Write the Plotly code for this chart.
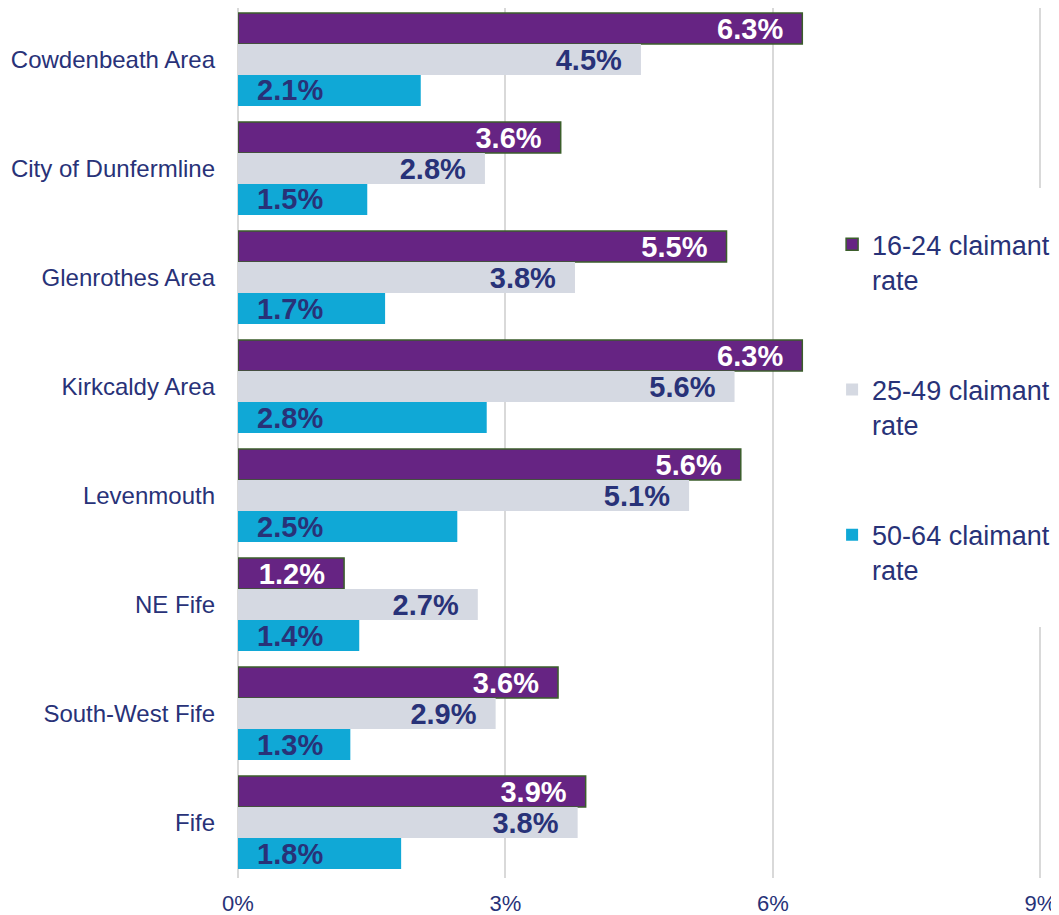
import plotly.graph_objects as go

categories = ["Cowdenbeath Area", "City of Dunfermline", "Glenrothes Area", "Kirkcaldy Area",
              "Levenmouth", "NE Fife", "South-West Fife", "Fife"]
rate_16_24 = [6.33, 3.62, 5.48, 6.33, 5.64, 1.19, 3.59, 3.90]
rate_25_49 = [4.52, 2.77, 3.78, 5.57, 5.06, 2.69, 2.89, 3.81]
rate_50_64 = [2.05, 1.45, 1.65, 2.79, 2.46, 1.36, 1.26, 1.83]
labels_16_24 = ["6.3%", "3.6%", "5.5%", "6.3%", "5.6%", "1.2%", "3.6%", "3.9%"]
labels_25_49 = ["4.5%", "2.8%", "3.8%", "5.6%", "5.1%", "2.7%", "2.9%", "3.8%"]
labels_50_64 = ["2.1%", "1.5%", "1.7%", "2.8%", "2.5%", "1.4%", "1.3%", "1.8%"]
series_names = ["16-24 claimant<br>rate", "25-49 claimant<br>rate", "50-64 claimant<br>rate"]
tick_vals = [0, 3, 6, 9]
tick_text = ["0%", "3%", "6%", "9%"]

NAVY = "#283278"
FONT = "Liberation Sans, Arial, sans-serif"
PAD = "\u00a0\u00a0"

fig = go.Figure()
specs = [
    (rate_16_24, [t + PAD for t in labels_16_24], "#662483", "#3B5E2B", 1.5, "white", "end"),
    (rate_25_49, [t + PAD for t in labels_25_49], "#D5D9E2", "#D5D9E2", 0, NAVY, "end"),
    (rate_50_64, [PAD + t for t in labels_50_64], "#10A8D6", "#10A8D6", 0, NAVY, "start"),
]
for i, (vals, labs, col, lcol, lw, tcol, anchor) in enumerate(specs):
    fig.add_trace(go.Bar(
        y=categories, x=vals, orientation="h", name=series_names[i],
        legendgroup=f"g{i}",
        marker=dict(color=col, line=dict(color=lcol, width=lw)),
        text=labs, textposition="inside", insidetextanchor=anchor,
        constraintext="none",
        textfont=dict(family=FONT, size=29, color=tcol, weight="bold"),
        hoverinfo="skip",
    ))

# white backing of the legend area (hides the 9% gridline behind the legend)
fig.add_shape(type="rect", xref="x", yref="paper", x0=8.9, x1=9.03, y0=0.2885, y1=0.793,
              fillcolor="white", line=dict(width=0), layer="above")

fig.update_layout(
    width=1051, height=907,
    margin=dict(l=230, r=16, t=0, b=37),
    paper_bgcolor="white", plot_bgcolor="white",
    barmode="group", bargap=0.147, bargroupgap=0,
    font=dict(family=FONT, color=NAVY),
    showlegend=True,
    legend=dict(
        x=0.738, y=0.756, xanchor="left", yanchor="top",
        bgcolor="white", traceorder="grouped", tracegroupgap=72,
        font=dict(family=FONT, size=27, color=NAVY),
        valign="top", itemwidth=30,
    ),
    xaxis=dict(
        range=[0, 9.03], tickvals=tick_vals, ticktext=tick_text,
        showgrid=True, gridcolor="#D9D9D9", gridwidth=1.5,
        zeroline=True, zerolinecolor="#D9D9D9", zerolinewidth=1.5,
        tickfont=dict(family=FONT, size=22, color=NAVY),
        ticklabelstandoff=10, ticklabeloverflow="allow",
        showline=False, automargin=False, fixedrange=True,
    ),
    yaxis=dict(
        range=[7.509, -0.4725], showgrid=False, zeroline=False, showline=False,
        tickfont=dict(family=FONT, size=24, color=NAVY),
        ticks="", ticklabelstandoff=22, automargin=False,
    ),
)

fig.write_html("out.html")
